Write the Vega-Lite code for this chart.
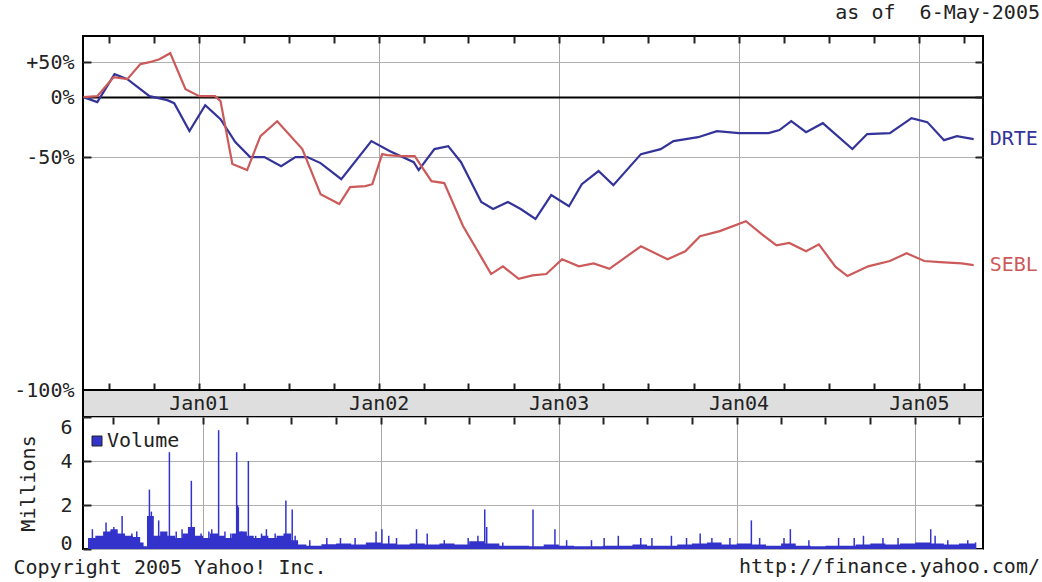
{
  "$schema": "https://vega.github.io/schema/vega-lite/v6.json",
  "background": "white",
  "padding": {"left": 12, "top": 2, "right": 0, "bottom": 0},
  "config": {
    "font": "DejaVu Sans Mono",
    "view": {"stroke": "black", "strokeWidth": 2},
    "axis": {"labelFont": "DejaVu Sans Mono", "labelFontSize": 20, "labelColor": "#222", "titleFont": "DejaVu Sans Mono", "titleFontSize": 20, "titleFontWeight": "normal", "titleColor": "#222", "tickColor": "#222", "domain": false},
    "title": {"font": "DejaVu Sans Mono", "fontSize": 20, "fontWeight": "normal", "color": "#222"},
    "legend": {"labelFont": "DejaVu Sans Mono", "labelFontSize": 20, "labelColor": "#222"}
  },
  "datasets": {
    "prices": [
      {"date": "2000-05-11", "symbol": "DRTE", "rel": 1.0},
      {"date": "2000-06-08", "symbol": "DRTE", "rel": 0.944},
      {"date": "2000-07-13", "symbol": "DRTE", "rel": 1.305},
      {"date": "2000-08-08", "symbol": "DRTE", "rel": 1.232},
      {"date": "2000-09-22", "symbol": "DRTE", "rel": 1.012},
      {"date": "2000-10-28", "symbol": "DRTE", "rel": 0.966},
      {"date": "2000-11-11", "symbol": "DRTE", "rel": 0.933},
      {"date": "2000-12-12", "symbol": "DRTE", "rel": 0.675},
      {"date": "2001-01-13", "symbol": "DRTE", "rel": 0.912},
      {"date": "2001-02-13", "symbol": "DRTE", "rel": 0.775},
      {"date": "2001-03-15", "symbol": "DRTE", "rel": 0.594},
      {"date": "2001-04-14", "symbol": "DRTE", "rel": 0.5},
      {"date": "2001-05-13", "symbol": "DRTE", "rel": 0.5},
      {"date": "2001-06-16", "symbol": "DRTE", "rel": 0.45},
      {"date": "2001-07-15", "symbol": "DRTE", "rel": 0.5},
      {"date": "2001-08-08", "symbol": "DRTE", "rel": 0.5},
      {"date": "2001-09-04", "symbol": "DRTE", "rel": 0.466},
      {"date": "2001-10-16", "symbol": "DRTE", "rel": 0.387},
      {"date": "2001-12-16", "symbol": "DRTE", "rel": 0.601},
      {"date": "2002-01-23", "symbol": "DRTE", "rel": 0.535},
      {"date": "2002-03-12", "symbol": "DRTE", "rel": 0.471},
      {"date": "2002-03-22", "symbol": "DRTE", "rel": 0.43},
      {"date": "2002-04-23", "symbol": "DRTE", "rel": 0.548},
      {"date": "2002-05-21", "symbol": "DRTE", "rel": 0.567},
      {"date": "2002-06-16", "symbol": "DRTE", "rel": 0.471},
      {"date": "2002-07-27", "symbol": "DRTE", "rel": 0.297},
      {"date": "2002-08-20", "symbol": "DRTE", "rel": 0.274},
      {"date": "2002-09-19", "symbol": "DRTE", "rel": 0.297},
      {"date": "2002-10-15", "symbol": "DRTE", "rel": 0.274},
      {"date": "2002-11-14", "symbol": "DRTE", "rel": 0.244},
      {"date": "2002-12-16", "symbol": "DRTE", "rel": 0.322},
      {"date": "2003-01-21", "symbol": "DRTE", "rel": 0.283},
      {"date": "2003-02-16", "symbol": "DRTE", "rel": 0.365},
      {"date": "2003-03-22", "symbol": "DRTE", "rel": 0.425},
      {"date": "2003-04-21", "symbol": "DRTE", "rel": 0.361},
      {"date": "2003-06-16", "symbol": "DRTE", "rel": 0.517},
      {"date": "2003-07-26", "symbol": "DRTE", "rel": 0.548},
      {"date": "2003-08-21", "symbol": "DRTE", "rel": 0.601},
      {"date": "2003-10-10", "symbol": "DRTE", "rel": 0.629},
      {"date": "2003-11-17", "symbol": "DRTE", "rel": 0.675},
      {"date": "2004-01-01", "symbol": "DRTE", "rel": 0.659},
      {"date": "2004-03-01", "symbol": "DRTE", "rel": 0.659},
      {"date": "2004-03-23", "symbol": "DRTE", "rel": 0.683},
      {"date": "2004-04-16", "symbol": "DRTE", "rel": 0.757},
      {"date": "2004-05-16", "symbol": "DRTE", "rel": 0.667},
      {"date": "2004-06-19", "symbol": "DRTE", "rel": 0.74},
      {"date": "2004-08-18", "symbol": "DRTE", "rel": 0.548},
      {"date": "2004-09-17", "symbol": "DRTE", "rel": 0.652},
      {"date": "2004-11-02", "symbol": "DRTE", "rel": 0.659},
      {"date": "2004-12-16", "symbol": "DRTE", "rel": 0.784},
      {"date": "2005-01-17", "symbol": "DRTE", "rel": 0.749},
      {"date": "2005-02-20", "symbol": "DRTE", "rel": 0.608},
      {"date": "2005-03-18", "symbol": "DRTE", "rel": 0.637},
      {"date": "2005-04-21", "symbol": "DRTE", "rel": 0.615},
      {"date": "2000-05-11", "symbol": "SEBL", "rel": 1.0},
      {"date": "2000-06-08", "symbol": "SEBL", "rel": 1.012},
      {"date": "2000-07-11", "symbol": "SEBL", "rel": 1.26},
      {"date": "2000-08-08", "symbol": "SEBL", "rel": 1.232},
      {"date": "2000-09-03", "symbol": "SEBL", "rel": 1.465},
      {"date": "2000-09-22", "symbol": "SEBL", "rel": 1.499},
      {"date": "2000-10-12", "symbol": "SEBL", "rel": 1.552},
      {"date": "2000-11-03", "symbol": "SEBL", "rel": 1.664},
      {"date": "2000-12-04", "symbol": "SEBL", "rel": 1.097},
      {"date": "2001-01-01", "symbol": "SEBL", "rel": 1.012},
      {"date": "2001-02-02", "symbol": "SEBL", "rel": 1.012},
      {"date": "2001-02-13", "symbol": "SEBL", "rel": 0.955},
      {"date": "2001-03-09", "symbol": "SEBL", "rel": 0.461},
      {"date": "2001-04-08", "symbol": "SEBL", "rel": 0.43},
      {"date": "2001-05-05", "symbol": "SEBL", "rel": 0.637},
      {"date": "2001-06-08", "symbol": "SEBL", "rel": 0.757},
      {"date": "2001-07-29", "symbol": "SEBL", "rel": 0.548},
      {"date": "2001-09-04", "symbol": "SEBL", "rel": 0.325},
      {"date": "2001-10-12", "symbol": "SEBL", "rel": 0.29},
      {"date": "2001-11-03", "symbol": "SEBL", "rel": 0.353},
      {"date": "2001-12-04", "symbol": "SEBL", "rel": 0.357},
      {"date": "2001-12-18", "symbol": "SEBL", "rel": 0.365},
      {"date": "2002-01-07", "symbol": "SEBL", "rel": 0.517},
      {"date": "2002-01-17", "symbol": "SEBL", "rel": 0.511},
      {"date": "2002-02-16", "symbol": "SEBL", "rel": 0.505},
      {"date": "2002-03-14", "symbol": "SEBL", "rel": 0.505},
      {"date": "2002-04-17", "symbol": "SEBL", "rel": 0.378},
      {"date": "2002-05-13", "symbol": "SEBL", "rel": 0.37},
      {"date": "2002-06-20", "symbol": "SEBL", "rel": 0.225},
      {"date": "2002-07-27", "symbol": "SEBL", "rel": 0.157},
      {"date": "2002-08-16", "symbol": "SEBL", "rel": 0.129},
      {"date": "2002-09-09", "symbol": "SEBL", "rel": 0.141},
      {"date": "2002-10-11", "symbol": "SEBL", "rel": 0.122},
      {"date": "2002-11-08", "symbol": "SEBL", "rel": 0.127},
      {"date": "2002-12-06", "symbol": "SEBL", "rel": 0.129},
      {"date": "2003-01-07", "symbol": "SEBL", "rel": 0.153},
      {"date": "2003-02-10", "symbol": "SEBL", "rel": 0.141},
      {"date": "2003-03-12", "symbol": "SEBL", "rel": 0.146},
      {"date": "2003-04-13", "symbol": "SEBL", "rel": 0.137},
      {"date": "2003-06-16", "symbol": "SEBL", "rel": 0.178},
      {"date": "2003-08-09", "symbol": "SEBL", "rel": 0.153},
      {"date": "2003-09-14", "symbol": "SEBL", "rel": 0.168},
      {"date": "2003-10-14", "symbol": "SEBL", "rel": 0.2},
      {"date": "2003-11-23", "symbol": "SEBL", "rel": 0.212},
      {"date": "2004-01-15", "symbol": "SEBL", "rel": 0.238},
      {"date": "2004-02-16", "symbol": "SEBL", "rel": 0.205},
      {"date": "2004-03-17", "symbol": "SEBL", "rel": 0.18},
      {"date": "2004-04-12", "symbol": "SEBL", "rel": 0.185},
      {"date": "2004-05-16", "symbol": "SEBL", "rel": 0.168},
      {"date": "2004-06-11", "symbol": "SEBL", "rel": 0.182},
      {"date": "2004-07-15", "symbol": "SEBL", "rel": 0.14},
      {"date": "2004-08-08", "symbol": "SEBL", "rel": 0.126},
      {"date": "2004-09-19", "symbol": "SEBL", "rel": 0.141},
      {"date": "2004-11-02", "symbol": "SEBL", "rel": 0.15},
      {"date": "2004-12-06", "symbol": "SEBL", "rel": 0.164},
      {"date": "2005-01-11", "symbol": "SEBL", "rel": 0.15},
      {"date": "2005-02-12", "symbol": "SEBL", "rel": 0.148},
      {"date": "2005-03-28", "symbol": "SEBL", "rel": 0.146},
      {"date": "2005-04-21", "symbol": "SEBL", "rel": 0.143}
    ],
    "years": [
      {"date": "2001-01-01", "label": "Jan01"},
      {"date": "2002-01-01", "label": "Jan02"},
      {"date": "2003-01-01", "label": "Jan03"},
      {"date": "2004-01-01", "label": "Jan04"},
      {"date": "2005-01-01", "label": "Jan05"}
    ],
    "volbase": [
      {"date": "2000-05-10", "vol": 0.5},
      {"date": "2000-05-25", "vol": 0.6},
      {"date": "2000-06-10", "vol": 0.8},
      {"date": "2000-06-25", "vol": 0.9},
      {"date": "2000-07-10", "vol": 0.7},
      {"date": "2000-07-25", "vol": 0.6},
      {"date": "2000-08-10", "vol": 0.55},
      {"date": "2000-08-25", "vol": 0.3},
      {"date": "2000-09-01", "vol": 0.12},
      {"date": "2000-09-08", "vol": 1.5},
      {"date": "2000-09-22", "vol": 0.6},
      {"date": "2000-10-05", "vol": 0.8},
      {"date": "2000-10-20", "vol": 0.6},
      {"date": "2000-11-05", "vol": 0.5},
      {"date": "2000-11-20", "vol": 0.7},
      {"date": "2000-12-01", "vol": 1.0},
      {"date": "2000-12-15", "vol": 0.6},
      {"date": "2001-01-01", "vol": 0.5},
      {"date": "2001-01-15", "vol": 0.7},
      {"date": "2001-02-01", "vol": 0.6},
      {"date": "2001-02-15", "vol": 0.5},
      {"date": "2001-03-01", "vol": 0.7},
      {"date": "2001-03-10", "vol": 1.9},
      {"date": "2001-03-16", "vol": 0.8},
      {"date": "2001-04-01", "vol": 0.6},
      {"date": "2001-04-15", "vol": 0.5},
      {"date": "2001-05-01", "vol": 0.6},
      {"date": "2001-05-15", "vol": 0.5},
      {"date": "2001-06-01", "vol": 0.6},
      {"date": "2001-06-15", "vol": 0.7},
      {"date": "2001-07-01", "vol": 0.4},
      {"date": "2001-07-15", "vol": 0.2},
      {"date": "2001-08-01", "vol": 0.15},
      {"date": "2001-09-01", "vol": 0.22},
      {"date": "2001-10-01", "vol": 0.25},
      {"date": "2001-11-01", "vol": 0.2},
      {"date": "2001-12-01", "vol": 0.3},
      {"date": "2002-01-01", "vol": 0.25},
      {"date": "2002-02-01", "vol": 0.2},
      {"date": "2002-03-01", "vol": 0.25},
      {"date": "2002-04-01", "vol": 0.2},
      {"date": "2002-05-01", "vol": 0.25},
      {"date": "2002-06-01", "vol": 0.2},
      {"date": "2002-07-01", "vol": 0.35},
      {"date": "2002-08-01", "vol": 0.25},
      {"date": "2002-09-01", "vol": 0.15},
      {"date": "2002-10-01", "vol": 0.15},
      {"date": "2002-11-01", "vol": 0.12},
      {"date": "2002-12-01", "vol": 0.2},
      {"date": "2003-01-01", "vol": 0.15},
      {"date": "2003-02-01", "vol": 0.12},
      {"date": "2003-03-01", "vol": 0.12},
      {"date": "2003-04-01", "vol": 0.15},
      {"date": "2003-05-01", "vol": 0.15},
      {"date": "2003-06-01", "vol": 0.2},
      {"date": "2003-07-01", "vol": 0.15},
      {"date": "2003-08-01", "vol": 0.15},
      {"date": "2003-09-01", "vol": 0.2},
      {"date": "2003-10-01", "vol": 0.25},
      {"date": "2003-11-01", "vol": 0.3},
      {"date": "2003-12-01", "vol": 0.2},
      {"date": "2004-01-01", "vol": 0.25},
      {"date": "2004-02-01", "vol": 0.2},
      {"date": "2004-03-01", "vol": 0.15},
      {"date": "2004-04-01", "vol": 0.25},
      {"date": "2004-05-01", "vol": 0.15},
      {"date": "2004-06-01", "vol": 0.12},
      {"date": "2004-07-01", "vol": 0.15},
      {"date": "2004-08-01", "vol": 0.15},
      {"date": "2004-09-01", "vol": 0.2},
      {"date": "2004-10-01", "vol": 0.25},
      {"date": "2004-11-01", "vol": 0.2},
      {"date": "2004-12-01", "vol": 0.25},
      {"date": "2005-01-01", "vol": 0.3},
      {"date": "2005-02-01", "vol": 0.25},
      {"date": "2005-03-01", "vol": 0.2},
      {"date": "2005-04-01", "vol": 0.25},
      {"date": "2005-05-06", "vol": 0.25}
    ],
    "volspike": [
      {"date": "2000-05-19", "vol": 0.9},
      {"date": "2000-06-16", "vol": 1.2},
      {"date": "2000-06-26", "vol": 0.8},
      {"date": "2000-07-02", "vol": 1.0},
      {"date": "2000-07-19", "vol": 1.5},
      {"date": "2000-08-08", "vol": 0.7},
      {"date": "2000-08-18", "vol": 0.8},
      {"date": "2000-09-13", "vol": 2.7},
      {"date": "2000-09-17", "vol": 1.7},
      {"date": "2000-10-02", "vol": 1.3},
      {"date": "2000-10-24", "vol": 4.4},
      {"date": "2000-11-07", "vol": 0.8},
      {"date": "2000-11-19", "vol": 0.9},
      {"date": "2000-12-08", "vol": 3.1},
      {"date": "2000-12-14", "vol": 1.0},
      {"date": "2000-12-28", "vol": 0.7},
      {"date": "2001-01-13", "vol": 0.8},
      {"date": "2001-01-19", "vol": 0.9},
      {"date": "2001-02-02", "vol": 5.4},
      {"date": "2001-02-15", "vol": 0.8},
      {"date": "2001-02-27", "vol": 0.7},
      {"date": "2001-03-11", "vol": 4.4},
      {"date": "2001-03-13", "vol": 2.0},
      {"date": "2001-03-21", "vol": 0.8},
      {"date": "2001-04-04", "vol": 4.0},
      {"date": "2001-04-19", "vol": 0.6},
      {"date": "2001-05-01", "vol": 0.7},
      {"date": "2001-05-11", "vol": 0.9},
      {"date": "2001-05-29", "vol": 0.7},
      {"date": "2001-06-20", "vol": 2.2},
      {"date": "2001-07-03", "vol": 1.8},
      {"date": "2001-07-09", "vol": 0.6},
      {"date": "2001-08-08", "vol": 0.4},
      {"date": "2001-09-12", "vol": 0.5},
      {"date": "2001-10-10", "vol": 0.5},
      {"date": "2001-11-09", "vol": 0.5},
      {"date": "2001-12-22", "vol": 0.8},
      {"date": "2002-01-03", "vol": 0.9},
      {"date": "2002-01-17", "vol": 0.6},
      {"date": "2002-02-02", "vol": 0.5},
      {"date": "2002-03-15", "vol": 0.9},
      {"date": "2002-04-06", "vol": 0.7},
      {"date": "2002-05-11", "vol": 0.4},
      {"date": "2002-06-29", "vol": 0.5},
      {"date": "2002-07-19", "vol": 0.6},
      {"date": "2002-08-02", "vol": 1.8},
      {"date": "2002-08-06", "vol": 1.0},
      {"date": "2002-09-08", "vol": 0.3},
      {"date": "2002-11-09", "vol": 1.8},
      {"date": "2002-12-24", "vol": 0.9},
      {"date": "2003-01-17", "vol": 0.4},
      {"date": "2003-03-09", "vol": 0.4},
      {"date": "2003-04-04", "vol": 0.5},
      {"date": "2003-05-03", "vol": 0.6},
      {"date": "2003-06-18", "vol": 0.5},
      {"date": "2003-07-11", "vol": 0.5},
      {"date": "2003-08-20", "vol": 0.6},
      {"date": "2003-09-20", "vol": 0.5},
      {"date": "2003-10-18", "vol": 0.7},
      {"date": "2003-11-11", "vol": 0.5},
      {"date": "2003-12-18", "vol": 0.5},
      {"date": "2004-01-31", "vol": 1.3},
      {"date": "2004-02-17", "vol": 0.5},
      {"date": "2004-04-07", "vol": 0.5},
      {"date": "2004-04-20", "vol": 0.9},
      {"date": "2004-05-28", "vol": 0.4},
      {"date": "2004-07-28", "vol": 0.5},
      {"date": "2004-08-29", "vol": 0.5},
      {"date": "2004-09-17", "vol": 0.6},
      {"date": "2004-10-27", "vol": 0.5},
      {"date": "2004-11-27", "vol": 0.5},
      {"date": "2005-02-02", "vol": 0.9},
      {"date": "2005-02-11", "vol": 0.6},
      {"date": "2005-03-09", "vol": 0.4},
      {"date": "2005-04-19", "vol": 0.4},
      {"date": "2005-05-05", "vol": 0.3}
    ]
  },
  "spacing": 0,
  "bounds": "flush",
  "resolve": {"scale": {"x": "independent", "color": "independent"}, "legend": {"color": "independent"}},
  "vconcat": [
    {
      "width": 900,
      "height": 354,
      "title": {"text": "as of \u00a06-May-2005", "anchor": "end", "frame": "group", "dx": 57, "offset": 12},
      "data": {"name": "prices"},
      "resolve": {"axis": {"x": "independent", "y": "independent"}},
      "layer": [
        {
          "mark": {"type": "line", "strokeWidth": 2.2},
          "encoding": {
            "x": {"field": "date", "type": "temporal",
              "scale": {"type": "utc", "domain": [{"year": 2000, "month": 5, "date": 10, "utc": true}, {"year": 2005, "month": 5, "date": 10, "utc": true}]},
              "axis": {"orient": "top", "tickCount": {"interval": "month", "step": 3}, "labels": false, "tickSize": -7, "tickWidth": 2, "grid": true, "gridColor": "#a8a8a8", "gridOpacity": {"condition": {"test": "utcmonth(datum.value) == 0", "value": 1}, "value": 0}, "title": null}},
            "y": {"field": "rel", "type": "quantitative",
              "scale": {"type": "log", "domain": [0.0337, 2.03], "nice": false},
              "axis": {"values": [0.0337, 0.5, 1, 1.5], "labelExpr": "datum.value > 1.2 ? '+50%' : datum.value > 0.9 ? '0%' : datum.value > 0.3 ? '-50%' : '-100%'", "tickSize": -8, "tickWidth": 2, "labelPadding": 17, "grid": true,
                "gridColor": {"condition": {"test": "datum.value == 1", "value": "black"}, "value": "#b0b0b0"},
                "gridWidth": {"condition": {"test": "datum.value == 1", "value": 2}, "value": 1}, "title": null}},
            "color": {"field": "symbol", "type": "nominal", "scale": {"domain": ["DRTE", "SEBL"], "range": ["#33339a", "#cc5a5a"]}, "legend": null}
          }
        },
        {
          "transform": [
            {"window": [{"op": "row_number", "as": "rk"}], "sort": [{"field": "date", "order": "descending"}], "groupby": ["symbol"]},
            {"filter": "datum.rk == 1"}
          ],
          "mark": {"type": "text", "align": "left", "dx": 16, "baseline": "middle", "fontSize": 20},
          "encoding": {
            "x": {"field": "date", "type": "temporal", "axis": {"orient": "bottom", "tickCount": {"interval": "month", "step": 3}, "labels": false, "tickSize": -7, "tickWidth": 2, "grid": false, "title": null}},
            "y": {"field": "rel", "type": "quantitative", "axis": {"orient": "right", "values": [0.5, 1, 1.5], "labels": false, "tickSize": -8, "tickWidth": 2, "grid": false, "title": null}},
            "text": {"field": "symbol"},
            "color": {"field": "symbol", "type": "nominal", "legend": null}
          }
        }
      ]
    },
    {
      "width": 900,
      "height": 27,
      "view": {"fill": "#dedede", "stroke": "black", "strokeWidth": 2},
      "data": {"name": "years"},
      "mark": {"type": "text", "fontSize": 20, "color": "#222", "baseline": "middle"},
      "encoding": {
        "x": {"field": "date", "type": "temporal",
          "scale": {"type": "utc", "domain": [{"year": 2000, "month": 5, "date": 10, "utc": true}, {"year": 2005, "month": 5, "date": 10, "utc": true}]},
          "axis": null},
        "text": {"field": "label"}
      }
    },
    {
      "width": 900,
      "height": 132,
      "title": {"text": "http://finance.yahoo.com/", "orient": "bottom", "anchor": "end", "frame": "group", "dx": 57, "offset": -20},
      "resolve": {"axis": {"x": "independent", "y": "independent"}},
      "layer": [
        {
          "data": {"name": "volbase"},
          "mark": {"type": "area", "interpolate": "step-after"},
          "encoding": {
            "x": {"field": "date", "type": "temporal",
              "scale": {"type": "utc", "domain": [{"year": 2000, "month": 5, "date": 10, "utc": true}, {"year": 2005, "month": 5, "date": 10, "utc": true}]},
              "axis": {"orient": "top", "tickCount": {"interval": "month", "step": 3}, "labels": false, "tickSize": -7, "tickWidth": 2, "grid": true, "gridColor": "#a8a8a8", "gridOpacity": {"condition": {"test": "utcmonth(datum.value) == 0", "value": 1}, "value": 0}, "title": null}},
            "y": {"field": "vol", "type": "quantitative", "scale": {"domain": [0, 6], "nice": false},
              "axis": {"values": [0, 2, 4, 6], "tickSize": -8, "tickWidth": 2, "labelPadding": 19, "grid": true, "gridColor": "#b0b0b0", "title": "Millions", "titlePadding": 21,
                "labelBaseline": {"condition": [{"test": "datum.value == 0", "value": "alphabetic"}, {"test": "datum.value == 6", "value": "top"}], "value": "middle"}}},
            "color": {"datum": "Volume", "type": "nominal", "scale": {"range": ["#3333cc"]},
              "legend": {"orient": "none", "legendX": 4, "legendY": 14, "title": null, "symbolType": "square", "symbolSize": 100, "symbolStrokeColor": "#222", "symbolStrokeWidth": 1, "padding": 0, "labelOffset": 0}}
          }
        },
        {
          "data": {"name": "volspike"},
          "mark": {"type": "bar", "color": "#3333cc", "width": 1.5},
          "encoding": {
            "x": {"field": "date", "type": "temporal",
              "axis": {"orient": "bottom", "labels": false, "ticks": false, "title": "Copyright 2005 Yahoo! Inc.", "titleAnchor": "start", "titleAlign": "left", "titleX": -70, "titleY": 24, "titleBaseline": "alphabetic"}},
            "y": {"field": "vol", "type": "quantitative",
              "axis": {"orient": "right", "values": [2, 4], "labels": false, "tickSize": -8, "tickWidth": 2, "grid": false, "title": null}}
          }
        }
      ]
    }
  ]
}
